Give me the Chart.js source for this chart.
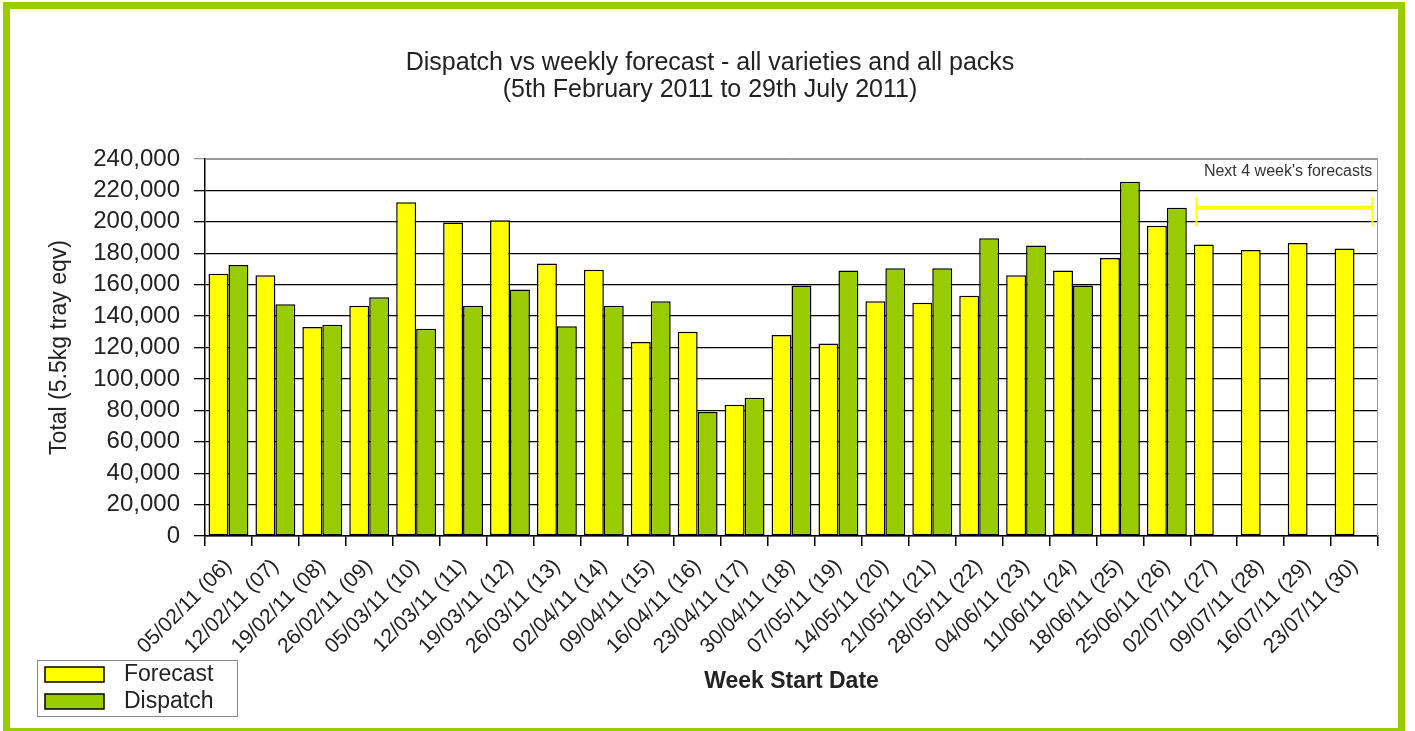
<!DOCTYPE html>
<html>
<head>
<meta charset="utf-8">
<script src="https://cdn.jsdelivr.net/npm/chart.js@4/dist/chart.umd.min.js"></script>
<style>
  html, body { margin: 0; padding: 0; background: #fff; overflow: hidden; }
  #wrap { position: relative; width: 1415px; height: 731px; }
  #frame {
    position: absolute; left: 3px; top: 2px; width: 1402px; height: 733px;
    border: 7px solid #99cc00; box-sizing: border-box; pointer-events: none;
  }
  canvas { position: absolute; left: 0; top: 0; }
</style>
</head>
<body>
<div id="wrap">
  <canvas id="weeklyChart" width="1415" height="731"></canvas>
  <div id="frame"></div>
</div>
<script>
const weeks = [
    '05/02/11 (06)', '12/02/11 (07)', '19/02/11 (08)', '26/02/11 (09)', '05/03/11 (10)',
    '12/03/11 (11)', '19/03/11 (12)', '26/03/11 (13)', '02/04/11 (14)', '09/04/11 (15)',
    '16/04/11 (16)', '23/04/11 (17)', '30/04/11 (18)', '07/05/11 (19)', '14/05/11 (20)',
    '21/05/11 (21)', '28/05/11 (22)', '04/06/11 (23)', '11/06/11 (24)', '18/06/11 (25)',
    '25/06/11 (26)', '02/07/11 (27)', '09/07/11 (28)', '16/07/11 (29)', '23/07/11 (30)'
];
const forecast = [
    167000, 166000, 133000, 146500, 212500, 199500, 201000, 173500, 169500, 123500,
    130000, 83500, 128000, 122500, 149500, 148500, 153000, 166000, 169000, 177000,
    197500, 185500, 182000, 186500, 183000
];
const dispatch = [
    172500, 147500, 134500, 152000, 132000, 146500, 157000, 133500, 146500, 149500,
    79000, 88000, 159500, 169000, 170500, 170500, 189500, 185000, 159500, 225500,
    209000, null, null, null, null
];
const yTicks = [0, 20000, 40000, 60000, 80000, 100000, 120000, 140000, 160000, 180000, 200000, 220000, 240000];

// first and last week of the "next 4 weeks" forecast bracket
const nextFrom = 21;
const nextTo = 24;

const textColor = '#222';
const fontFamily = '"Liberation Sans", Arial, sans-serif';

// Frame on top/right, bracket note and boxed legend
const extras = {
    id: 'extras',
    afterDraw(chart) {
        const { ctx, chartArea: a, scales: { x, y } } = chart;
        ctx.save();

        // grey frame top and right
        ctx.strokeStyle = '#999';
        ctx.lineWidth = 1;
        ctx.beginPath();
        ctx.moveTo(a.left, a.top + 0.5);
        ctx.lineTo(a.right - 0.5, a.top + 0.5);
        ctx.lineTo(a.right - 0.5, a.bottom);
        ctx.stroke();

        // "Next 4 week's forecasts" bracket
        const cat = (x.getPixelForValue(1) - x.getPixelForValue(0));
        const x1 = x.getPixelForValue(nextFrom) - cat * 0.37;
        const x2 = x.getPixelForValue(nextTo) + cat * 0.38;
        const yb = y.getPixelForValue(209000);
        ctx.strokeStyle = '#ffff00';
        ctx.lineWidth = 4;
        ctx.beginPath();
        ctx.moveTo(x1, yb);
        ctx.lineTo(x2, yb);
        ctx.stroke();
        ctx.lineWidth = 2;
        ctx.beginPath();
        ctx.moveTo(x1, y.getPixelForValue(216000));
        ctx.lineTo(x1, y.getPixelForValue(197000));
        ctx.moveTo(x2, y.getPixelForValue(216000));
        ctx.lineTo(x2, y.getPixelForValue(197000));
        ctx.stroke();

        ctx.fillStyle = '#333';
        ctx.font = '16px ' + fontFamily;
        ctx.textAlign = 'right';
        ctx.textBaseline = 'middle';
        ctx.fillText("Next 4 week's forecasts", x2, a.top + 13);

        // legend box
        const lx = 37, ly = 660, lw = 200, lh = 56;
        ctx.fillStyle = '#fff';
        ctx.fillRect(lx, ly, lw, lh);
        ctx.strokeStyle = '#888';
        ctx.lineWidth = 1;
        ctx.strokeRect(lx + 0.5, ly + 0.5, lw, lh);
        chart.data.datasets.forEach((ds, i) => {
            const sy = ly + 7 + i * 27;
            ctx.fillStyle = ds.backgroundColor;
            ctx.fillRect(lx + 8, sy, 59, 15);
            ctx.strokeStyle = '#000';
            ctx.lineWidth = 1.5;
            ctx.strokeRect(lx + 8, sy, 59, 15);
            ctx.fillStyle = textColor;
            ctx.font = '23px ' + fontFamily;
            ctx.textAlign = 'left';
            ctx.textBaseline = 'middle';
            ctx.fillText(ds.label, lx + 87, sy + 8);
        });
        ctx.restore();
    }
};

new Chart(document.getElementById('weeklyChart'), {
    type: 'bar',
    data: {
        labels: weeks,
        datasets: [
            {
                label: 'Forecast',
                data: forecast,
                backgroundColor: '#ffff00',
                borderColor: '#000',
                borderWidth: 1.5,
                borderSkipped: false
            },
            {
                label: 'Dispatch',
                data: dispatch,
                backgroundColor: '#99cc00',
                borderColor: '#000',
                borderWidth: 1.5,
                borderSkipped: false
            }
        ]
    },
    options: {
        responsive: false,
        animation: false,
        datasets: { bar: { categoryPercentage: 0.85, barPercentage: 1.0 } },
        layout: { padding: { left: 42, right: 37, top: 0, bottom: 32 } },
        plugins: {
            legend: { display: false },
            tooltip: { enabled: false },
            title: {
                display: true,
                text: ['Dispatch vs weekly forecast - all varieties and all packs', '(5th February 2011 to 29th July 2011)'],
                color: textColor,
                font: { family: fontFamily, size: 25, weight: 'normal', lineHeight: 1.08 },
                padding: { top: 50, bottom: 55 }
            }
        },
        scales: {
            x: {
                grid: {
                    display: true,
                    offset: true,
                    drawOnChartArea: false,
                    drawTicks: true,
                    tickLength: 10,
                    color: '#000',
                    lineWidth: 1.5
                },
                border: { color: '#000', width: 1.5 },
                ticks: {
                    color: textColor,
                    font: { family: fontFamily, size: 21 },
                    minRotation: 45,
                    maxRotation: 45,
                    autoSkip: false,
                    padding: 8
                },
                title: {
                    display: true,
                    text: 'Week Start Date',
                    color: textColor,
                    font: { family: fontFamily, size: 23, weight: 'bold' }
                },
                afterFit(scale) { scale.height = 163; }
            },
            y: {
                min: 0,
                max: 240000,
                afterBuildTicks(scale) { scale.ticks = yTicks.map(v => ({ value: v })); },
                grid: {
                    color: ctx => ctx.tick && ctx.tick.value === 240000 ? '#999' : '#000',
                    lineWidth: 1.3,
                    tickLength: 11
                },
                border: { color: '#000', width: 1.5 },
                ticks: {
                    color: textColor,
                    font: { family: fontFamily, size: 24, lineHeight: 1 },
                    autoSkip: false,
                    padding: 14,
                    callback: v => v.toLocaleString('en-US')
                },
                title: {
                    display: true,
                    text: 'Total (5.5kg tray eqv)',
                    color: textColor,
                    font: { family: fontFamily, size: 23 }
                },
                afterFit(scale) { scale.width = 163; }
            }
        }
    },
    plugins: [extras]
});
</script>
</body>
</html>
